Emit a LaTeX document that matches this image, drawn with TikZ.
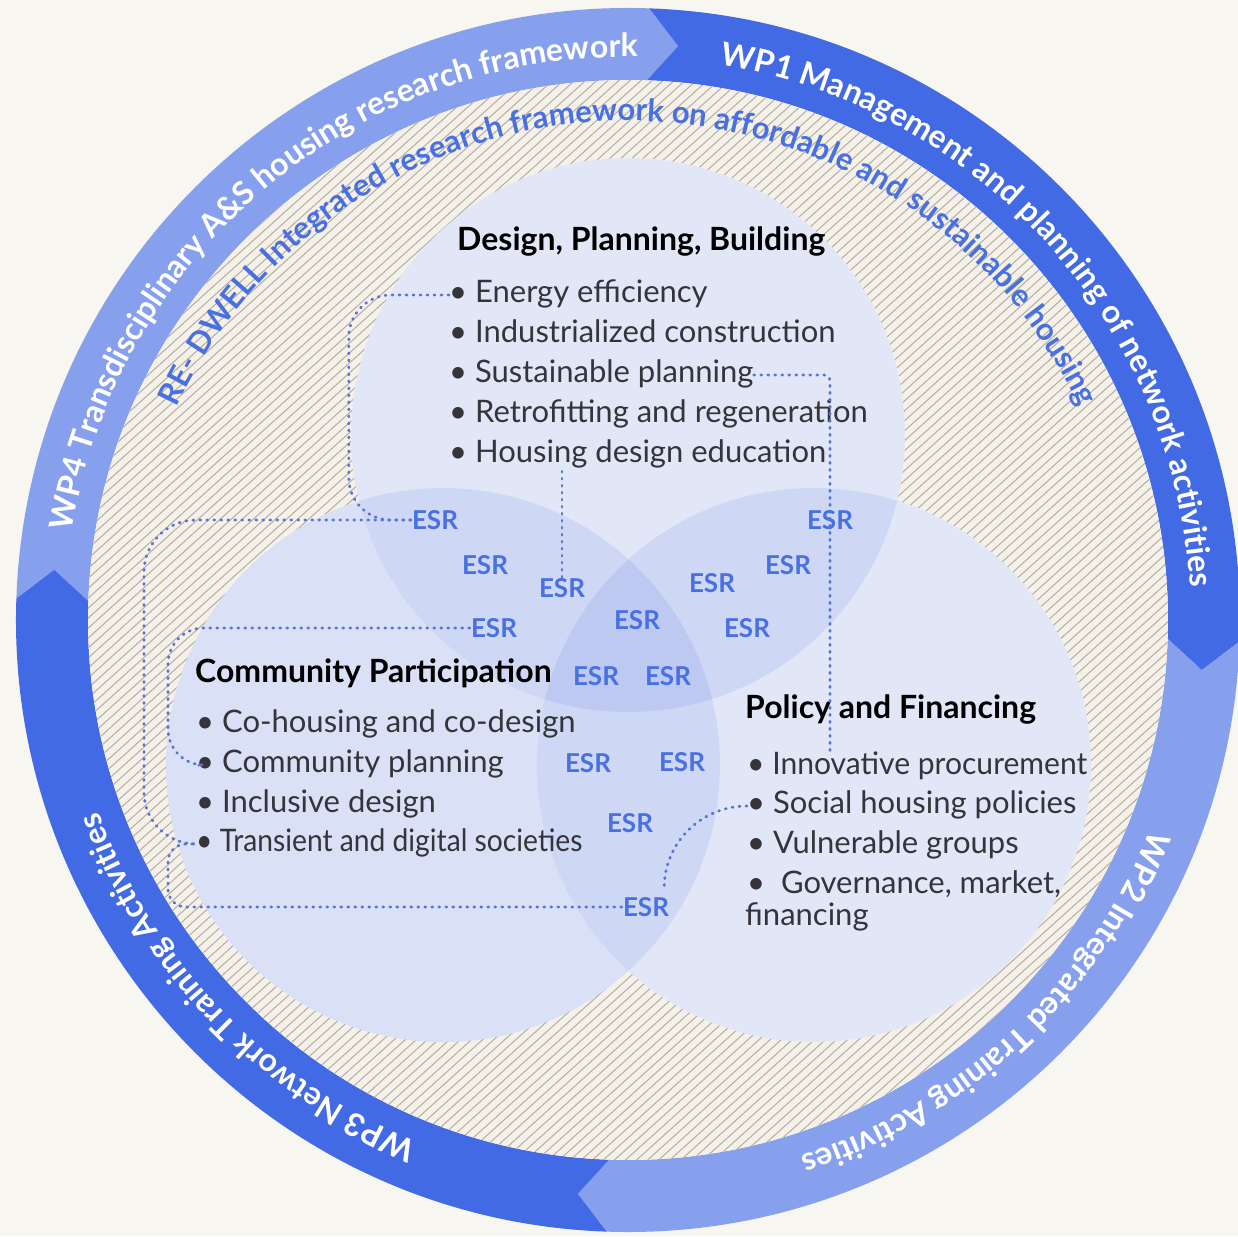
\documentclass[tikz,border=0pt]{standalone}
\usepackage{graphicx}
\usepackage{fontspec}
\setmainfont{Lato}
\usepackage{tikz}
\usetikzlibrary{positioning, calc, decorations.text}
\definecolor{page_bg}{RGB}{248, 246, 241}
\definecolor{ring_dark}{RGB}{66, 106, 228}
\definecolor{ring_light}{RGB}{134, 160, 238}
\definecolor{hatch_bg}{RGB}{245, 241, 232}
\definecolor{hatch_line}{RGB}{178, 174, 166}
\definecolor{venn_base}{RGB}{250, 250, 253}
\definecolor{venn_left}{RGB}{240, 243, 252}
\definecolor{venn_tint}{RGB}{95, 125, 225}
\definecolor{esr_blue}{RGB}{72, 112, 226}
\definecolor{dot_blue}{RGB}{88, 114, 214}
\definecolor{ink}{RGB}{52, 52, 58}
\newcommand{\itemfont}{\fontsize{31}{40}\selectfont}
\newcommand{\hdfont}{\fontsize{32}{40}\selectfont\bfseries}
\newcommand{\esrfont}{\fontsize{26}{30}\selectfont\bfseries}
\newcommand{\ringfont}{\fontsize{32}{32}\selectfont\bfseries}
\newcommand{\framefont}{\fontsize{31}{31}\selectfont\bfseries}

\begin{document}
\begin{tikzpicture}[x=1pt, y=1pt,
    item/.style={anchor=west, inner sep=0pt, font=\itemfont, text=ink, text height=23pt, text depth=8pt},
    head/.style={item, font=\hdfont, text=black},
    esr/.style={font=\esrfont, text=esr_blue, inner sep=1pt},
    link/.style={draw=dot_blue, line width=2.8pt, line cap=round, dash pattern=on 1pt off 6pt},
    venn/.style={fill=venn_tint, fill opacity=0.15}]
  \useasboundingbox (-628,-616) rectangle (610,620);
  \fill[page_bg] (-628,-616) rectangle (610,620);

  % work package ring, four chevron segments
  \foreach \a/\col in {178/ring_light, 88/ring_dark, -2/ring_light, -92/ring_dark}
    \fill[\col] (\a:612) arc[start angle=\a, end angle=\a-90, radius=612] -- ({\a-93}:576)
      -- ({\a-90}:540) arc[start angle=\a-90, end angle=\a, radius=540] -- ({\a-3}:576) -- cycle;

  % hatched disc
  \begin{scope}
    \clip (0,0) circle[radius=540];
    \fill[hatch_bg] (-540,-540) rectangle (540,540);
    \foreach \k in {-74,...,74}
      \draw[hatch_line, line width=1pt, rotate=42] (-560,{\k*7.4}) -- (560,{\k*7.4});
  \end{scope}

  % ring labels
  \path[decorate, decoration={text along path, text align=center, text color=white,
      text={|\ringfont|WP4 Transdisciplinary A{\&}S housing research framework}}]
    (172:563) arc[start angle=172, end angle=88, radius=563];
  \path[decorate, decoration={text along path, text align=center, text color=white,
      text={|\ringfont|WP1 Management and planning of network activities}}]
    (84:563) arc[start angle=84, end angle=0, radius=563];
  \path[decorate, decoration={text along path, text align=center, text color=white,
      text={|\ringfont|WP2 Integrated Training Activities}}]
    (-4:563) arc[start angle=-4, end angle=-90, radius=563];
  \path[decorate, decoration={text along path, text align=center, text color=white,
      text={|\ringfont|WP3 Network Training Activities}}]
    (-94:563) arc[start angle=-94, end angle=-178, radius=563];
  \path[decorate, decoration={text along path, text align=center, text color=esr_blue,
      text={|\framefont|RE- DWELL Integrated research framework on affordable and sustainable housing}}]
    (162:499) arc[start angle=162, end angle=18, radius=499];

  % three research areas
  \coordinate (c_top) at (0,185);
  \coordinate (c_left) at (-185,-145);
  \coordinate (c_right) at (186,-145);
  \fill[venn_left] (c_left) circle[radius=277];
  \foreach \c in {c_top, c_right}
    \fill[venn_base] (\c) circle[radius=277];
  \foreach \c in {c_top, c_left, c_right}
    \fill[venn] (\c) circle[radius=277];

  \node[head] (dpb) at (-171,377) {Design, Planning, Building};
  \node[item] (energy)  at (-179,325) {\textbullet\ Energy efficiency};
  \node[item] (indus)   at (-179,285) {\textbullet\ Industrialized construction};
  \node[item] (sust)    at (-179,245) {\textbullet\ Sustainable planning};
  \node[item] (retro)   at (-179,205) {\textbullet\ Retrofitting and regeneration};
  \node[item] (housing) at (-179,165) {\textbullet\ Housing design education};

  \node[head] (cp) at (-433,-55) {Community Participation};
  \node[item] (cohous) at (-432,-105) {\textbullet\ Co-housing and co-design};
  \node[item] (cplan)  at (-432,-145) {\textbullet\ Community planning};
  \node[item] (incl)   at (-432,-185) {\textbullet\ Inclusive design};
  \node[item] (trans)  at (-432,-224) {\scalebox{0.91}[1]{\textbullet\ Transient and digital societies}};

  \node[head] (pf) at (117,-91) {Policy and Financing};
  \node[item] (innov)  at (119,-147) {\scalebox{0.97}[1]{\textbullet\ Innovative procurement}};
  \node[item] (social) at (119,-186) {\textbullet\ Social housing policies};
  \node[item] (vuln)   at (119,-226) {\textbullet\ Vulnerable groups};
  \node[item] (gov)    at (119,-266) {\textbullet\ \ Governance, market,};
  \node[item] (fin)    at (117,-298) {financing};

  % early stage researchers
  \node[esr] (esr1)  at (-193,100) {ESR};
  \node[esr] (esr2)  at (-143,55)  {ESR};
  \node[esr] (esr3)  at (-66,32)   {ESR};
  \node[esr] (esr4)  at (9,0)      {ESR};
  \node[esr] (esr5)  at (84,37)    {ESR};
  \node[esr] (esr6)  at (160,55)   {ESR};
  \node[esr] (esr7)  at (202,100)  {ESR};
  \node[esr] (esr8)  at (-134,-8)  {ESR};
  \node[esr] (esr9)  at (119,-8)   {ESR};
  \node[esr] (esr10) at (-32,-56)  {ESR};
  \node[esr] (esr11) at (40,-56)   {ESR};
  \node[esr] (esr12) at (-40,-143) {ESR};
  \node[esr] (esr13) at (54,-142)  {ESR};
  \node[esr] (esr14) at (2,-203)   {ESR};
  \node[esr] (esr15) at (18,-287)  {ESR};

  % dotted links
  \draw[link, rounded corners=42pt] (energy.west) -| ([xshift=-62pt]esr1.west) -- (esr1.west);
  \draw[link, rounded corners=52pt] (esr1.west) -| ([xshift=-52pt]trans.west) [rounded corners=26pt] -- (trans.west);
  \draw[link, rounded corners=36pt] (esr8.west) -| ([xshift=-28pt]cplan.west) [rounded corners=16pt] -- (cplan.west);
  \draw[link, rounded corners=18pt] (esr15.west) -| ([xshift=-28pt]trans.west) -- (trans.west);
  \draw[link] (esr3.north) -- (esr3.north |- housing.south);
  \draw[link, rounded corners=6pt] (sust.east) -| (esr7.north) -- (esr7.south) -- (esr7.south |- innov.north);
  \draw[link] (social.west) to[out=180, in=90] ([xshift=-6pt, yshift=8pt]esr15.north east);
\end{tikzpicture}
\end{document}
